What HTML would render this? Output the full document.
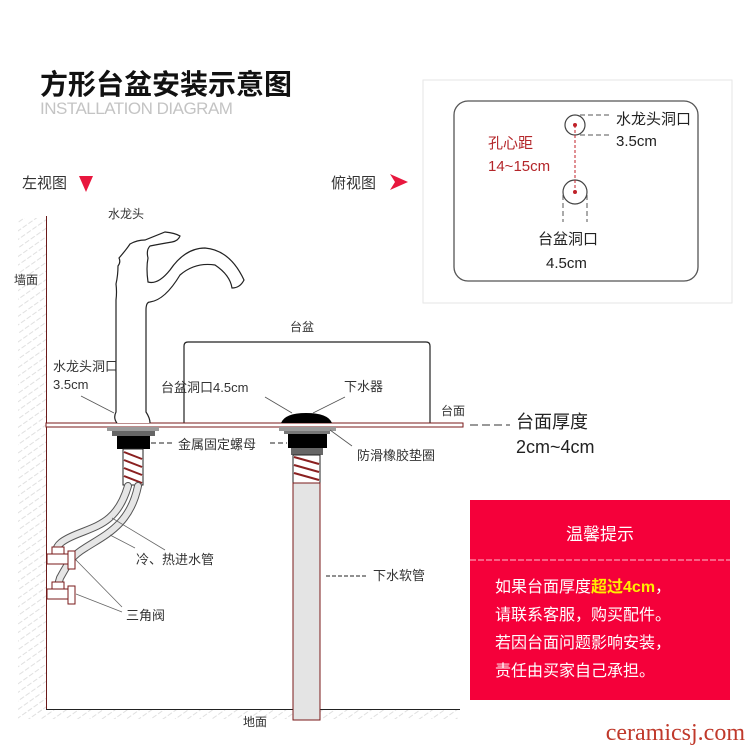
<!DOCTYPE html>
<html><head><meta charset="utf-8"><style>
body{margin:0;background:#fff}
svg{display:block;font-family:"Liberation Sans","Noto Sans CJK SC",sans-serif}
</style></head><body>
<svg width="750" height="750" viewBox="0 0 750 750" xmlns="http://www.w3.org/2000/svg">
<defs>
<pattern id="hatch" width="7" height="7" patternUnits="userSpaceOnUse" patternTransform="rotate(-35)">
<line x1="0" y1="3.5" x2="5" y2="3.5" stroke="#e0e0e0" stroke-width="1"/></pattern>
</defs>
<text x="40" y="94" font-size="28" font-weight="bold" fill="#111" font-family="Noto Sans CJK SC,sans-serif">方形台盆安装示意图</text>
<text x="40" y="114" font-size="17" fill="#c4c4c4" letter-spacing="-0.5">INSTALLATION DIAGRAM</text>
<text x="22" y="188" font-size="15" fill="#333">左视图</text>
<polygon points="79,176 93,176 86,192" fill="#e8173e"/>
<text x="331" y="188" font-size="15" fill="#333">俯视图</text>
<polygon points="390,174 408,182 390,190 395,182" fill="#e8173e"/>

<!-- top view -->
<rect x="423" y="80" width="309" height="223" fill="#fff" stroke="#e6e6e6"/>
<rect x="454" y="101" width="244" height="180" rx="14" fill="none" stroke="#555" stroke-width="1.3"/>
<circle cx="575" cy="125" r="10" fill="none" stroke="#444" stroke-width="1.2"/>
<circle cx="575" cy="192" r="12" fill="none" stroke="#444" stroke-width="1.2"/>
<line x1="575" y1="125" x2="575" y2="192" stroke="#c0222a" stroke-dasharray="3,2"/>
<circle cx="575" cy="125" r="2" fill="#c0222a"/><circle cx="575" cy="192" r="2" fill="#c0222a"/>
<line x1="580" y1="115" x2="610" y2="115" stroke="#555" stroke-dasharray="5,3"/>
<line x1="580" y1="135" x2="610" y2="135" stroke="#555" stroke-dasharray="5,3"/>
<line x1="563" y1="195" x2="563" y2="222" stroke="#555" stroke-dasharray="5,3"/>
<line x1="587" y1="195" x2="587" y2="222" stroke="#555" stroke-dasharray="5,3"/>
<text x="616" y="124" font-size="15" fill="#222">水龙头洞口</text>
<text x="616" y="146" font-size="15" fill="#222">3.5cm</text>
<text x="488" y="148" font-size="15" fill="#b4262a">孔心距</text>
<text x="488" y="171" font-size="15" fill="#b4262a">14~15cm</text>
<text x="538" y="244" font-size="15" fill="#222">台盆洞口</text>
<text x="546" y="268" font-size="15" fill="#222">4.5cm</text>

<!-- wall & floor -->
<rect x="18" y="218" width="28" height="495" fill="url(#hatch)"/>
<rect x="18" y="709" width="440" height="10" fill="url(#hatch)"/>
<line x1="46.5" y1="216" x2="46.5" y2="709" stroke="#6b1a1a" stroke-width="1"/>
<line x1="46" y1="709.5" x2="460" y2="709.5" stroke="#222" stroke-width="1"/>
<text x="14" y="284" font-size="12" fill="#333">墙面</text>
<text x="243" y="726" font-size="12" fill="#333">地面</text>

<!-- basin -->
<path d="M184,424 V346 Q184,342 188,342 H426 Q430,342 430,346 V424" fill="none" stroke="#222" stroke-width="1.2"/>
<text x="290" y="331" font-size="12" fill="#333">台盆</text>

<!-- countertop -->
<rect x="46" y="423" width="417" height="4" fill="#fff" stroke="#7a1a1a" stroke-width="1"/>
<text x="441" y="415" font-size="12" fill="#333">台面</text>
<line x1="470" y1="425" x2="510" y2="425" stroke="#333" stroke-dasharray="8,4"/>
<text x="516" y="428" font-size="18" fill="#222">台面厚度</text>
<text x="516" y="453" font-size="18" fill="#222">2cm~4cm</text>

<!-- faucet -->
<path d="M117,423 Q113,418 116,412 V300 Q117,292 116,284 Q118,275 118,266 Q121,262 119,258 Q126,250 130,244 Q137,240 145,240 Q155,236 165,232 Q175,233 180,236 Q178,241 172,242 Q160,244 150,246 Q146,250 148,258 Q146,268 148,282 Q158,285 170,270 Q185,248 205,248 Q230,250 244,280 Q240,288 232,288 Q230,275 215,265 Q195,262 180,275 Q165,300 150,302 Q146,302 146,310 V412 Q150,418 150,423" fill="#fff" stroke="#222" stroke-width="1.2"/>
<text x="108" y="218" font-size="12" fill="#333">水龙头</text>
<text x="53" y="371" font-size="13" fill="#333">水龙头洞口</text>
<text x="53" y="389" font-size="13" fill="#333">3.5cm</text>
<line x1="81" y1="396" x2="114" y2="413" stroke="#555" stroke-width="0.8"/>
<rect x="107" y="427" width="52" height="4" fill="#9a9a9a"/>
<rect x="112" y="431" width="43" height="5" fill="#666"/>
<rect x="117" y="436" width="33" height="13" fill="#000"/>
<rect x="123" y="449" width="20" height="36" fill="#fff" stroke="#222"/>
<g stroke="#8a2020" stroke-width="2"><line x1="124" y1="452" x2="142" y2="459"/><line x1="124" y1="460" x2="142" y2="467"/><line x1="124" y1="468" x2="142" y2="475"/><line x1="124" y1="476" x2="142" y2="483"/></g>
<text x="178" y="449" font-size="13" fill="#333">金属固定螺母</text>
<line x1="151" y1="443" x2="172" y2="443" stroke="#222" stroke-dasharray="5,3"/>
<line x1="270" y1="443" x2="287" y2="443" stroke="#222" stroke-dasharray="5,3"/>

<!-- hoses -->
<g fill="none" stroke-linecap="round">
<path d="M128,486 C118,520 100,525 80,533 C62,540 56,545 56,552" stroke="#555" stroke-width="8"/>
<path d="M128,486 C118,520 100,525 80,533 C62,540 56,545 56,552" stroke="#e6e6e6" stroke-width="6"/>
<path d="M138,486 C130,525 105,535 85,548 C72,556 70,560 60,578 L58,585" stroke="#555" stroke-width="8"/>
<path d="M138,486 C130,525 105,535 85,548 C72,556 70,560 60,578 L58,585" stroke="#e6e6e6" stroke-width="6"/>
</g>
<g fill="#fff" stroke="#7a1a1a" stroke-width="1">
<rect x="52" y="547" width="12" height="7"/><rect x="47" y="554" width="22" height="10"/><rect x="68" y="551" width="7" height="18"/>
<rect x="52" y="582" width="12" height="7"/><rect x="47" y="589" width="22" height="10"/><rect x="68" y="586" width="7" height="18"/>
</g>
<g stroke="#666" stroke-width="0.8">
<line x1="112" y1="518" x2="165" y2="550"/><line x1="110" y1="535" x2="135" y2="548"/>
<line x1="76" y1="560" x2="122" y2="607"/><line x1="76" y1="594" x2="122" y2="612"/>
</g>
<text x="136" y="564" font-size="13" fill="#333">冷、热进水管</text>
<text x="126" y="620" font-size="13" fill="#333">三角阀</text>

<!-- drain -->
<path d="M281,423 Q285,413 306,413 Q328,413 332,423 Z" fill="#000"/>
<rect x="279" y="427" width="57" height="4" fill="#9a9a9a"/>
<rect x="284" y="431" width="46" height="3" fill="#777"/>
<rect x="288" y="434" width="39" height="14" fill="#000"/>
<rect x="291" y="448" width="32" height="7" fill="#666"/>
<rect x="293" y="455" width="27" height="28" fill="#fff" stroke="#222"/>
<g stroke="#8a2020" stroke-width="2"><line x1="294" y1="457" x2="319" y2="464"/><line x1="294" y1="465" x2="319" y2="472"/><line x1="294" y1="473" x2="319" y2="480"/></g>
<rect x="293" y="483" width="27" height="237" fill="#e4e4e4" stroke="#7a1a1a" stroke-width="1"/>
<text x="161" y="392" font-size="13" fill="#333">台盆洞口4.5cm</text>
<line x1="265" y1="397" x2="292" y2="413" stroke="#555" stroke-width="0.8"/>
<text x="344" y="391" font-size="13" fill="#333">下水器</text>
<line x1="345" y1="397" x2="313" y2="413" stroke="#555" stroke-width="0.8"/>
<text x="357" y="460" font-size="13" fill="#333">防滑橡胶垫圈</text>
<line x1="330" y1="430" x2="352" y2="446" stroke="#555" stroke-width="0.8"/>
<line x1="326" y1="576" x2="368" y2="576" stroke="#222" stroke-dasharray="4,2"/>
<text x="373" y="580" font-size="13" fill="#333">下水软管</text>

<!-- notice -->
<rect x="470" y="500" width="260" height="200" fill="#f5003a"/>
<text x="600" y="540" font-size="17" fill="#fff" text-anchor="middle">温馨提示</text>
<line x1="470" y1="560" x2="730" y2="560" stroke="#fff" stroke-dasharray="6,2" stroke-width="0.8"/>
<g font-size="16" fill="#fff">
<text x="495" y="592">如果台面厚度<tspan fill="#ffee00" font-weight="bold">超过4cm</tspan>，</text>
<text x="495" y="620">请联系客服，购买配件。</text>
<text x="495" y="648">若因台面问题影响安装，</text>
<text x="495" y="676">责任由买家自己承担。</text>
</g>
<text x="745" y="740" font-size="24" fill="#c0392b" text-anchor="end" font-family="Liberation Serif,serif">ceramicsj.com</text>
</svg>
</body></html>
